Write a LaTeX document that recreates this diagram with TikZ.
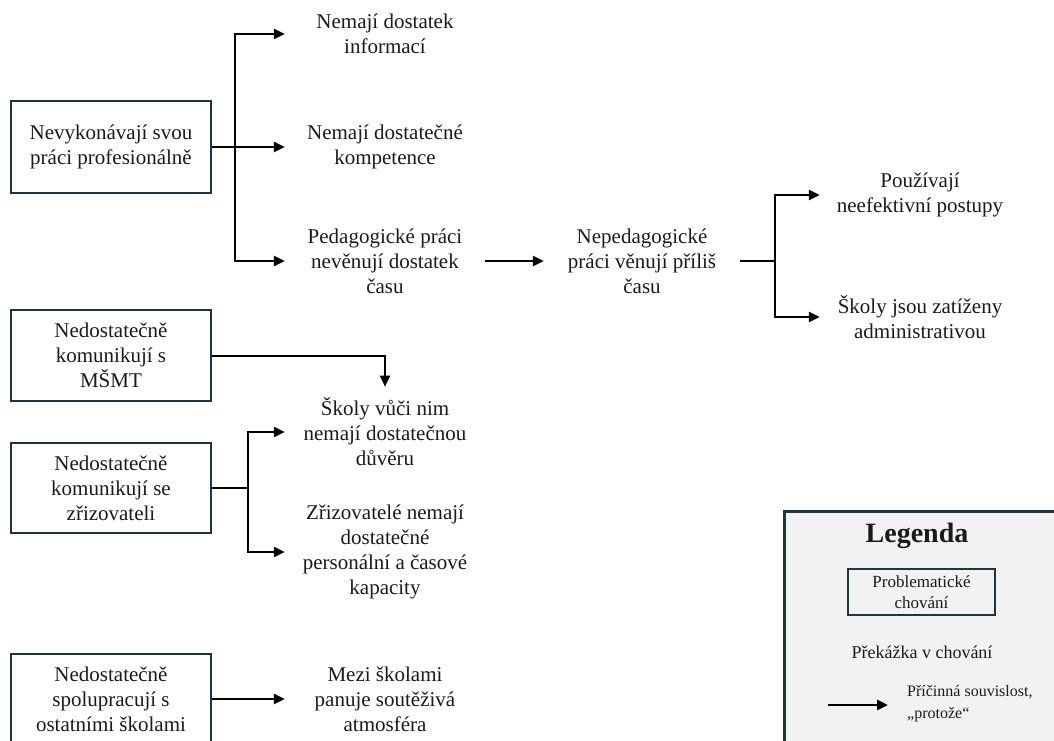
\documentclass[tikz,border=0pt]{standalone}
\usepackage{fontspec}
\setmainfont{Liberation Serif}
\usetikzlibrary{arrows.meta}
\definecolor{boxline}{HTML}{1D3545}
\definecolor{legendfill}{HTML}{F2F2F2}
\definecolor{ink}{HTML}{1A1A1A}
\tikzset{
  every node/.style={text=ink},
  txt/.style={font=\fontsize{21}{25}\selectfont, align=center, inner sep=0pt},
  cause/.style={txt, draw=boxline, line width=2.8pt, minimum width=200pt, inner sep=2pt},
  effect/.style={txt, minimum width=200pt},
  arr/.style={draw=black, line width=2.8pt, -{Triangle[length=11pt,width=10pt]}},
  link/.style={draw=black, line width=2.8pt},
  small/.style={font=\fontsize{17}{21}\selectfont, inner sep=0pt}
}
\begin{document}
\begin{tikzpicture}[x=1pt,y=-1pt]
\useasboundingbox (0,0) rectangle (1054,740);
\clip (0,0) rectangle (1054,740);

% problem behaviours (boxed)
\node[cause, minimum height=92pt] (b1) at (111,147) {Nevykonávají svou\\práci profesionálně};
\node[cause, minimum height=91pt] (b2) at (111,355.5) {Nedostatečně\\komunikují s\\MŠMT};
\node[cause, minimum height=90pt] (b3) at (111,488) {Nedostatečně\\komunikují se\\zřizovateli};
\node[cause, minimum height=90pt] (b4) at (111,699) {Nedostatečně\\spolupracují s\\ostatními školami};

% barriers
\node[effect] (t1) at (385,34) {Nemají dostatek\\informací};
\node[effect] (t2) at (385,147) {Nemají dostatečné\\kompetence};
\node[effect] (t3) at (385,261) {Pedagogické práci\\nevěnují dostatek\\času};
\node[effect, minimum width=196pt] (n1) at (642,261) {Nepedagogické\\práci věnují příliš\\času};
\node[effect] (u1) at (920,195) {Používají\\neefektivní postupy};
\node[effect] (u2) at (920,317) {Školy jsou zatíženy\\administrativou};
\node[effect] (s1) at (385,432) {Školy vůči nim\\nemají dostatečnou\\důvěru};
\node[effect] (z1) at (385,552) {Zřizovatelé nemají\\dostatečné\\personální a časové\\kapacity};
\node[effect] (m1) at (385,699) {Mezi školami\\panuje soutěživá\\atmosféra};

% branching points
\coordinate (tr1) at (235,147);
\coordinate (tr2) at (775,261);
\coordinate (tr3) at (248,488);

% connectors
\draw[link] (b1.east) -- (tr1);
\draw[arr] (tr1) |- (t1.west);
\draw[arr] (tr1) -- (t2.west);
\draw[arr] (tr1) |- (t3.west);

\draw[arr] (t3.east) -- (n1.west);
\draw[link] (n1.east) -- (tr2);
\draw[arr] (tr2) |- (u1.west);
\draw[arr] (tr2) |- (u2.west);

\draw[arr, line width=2pt, shorten >=11pt] (b2.east) -| (s1.north);

\draw[link] (b3.east) -- (tr3);
\draw[arr] (tr3) |- (s1.west);
\draw[arr] (tr3) |- (z1.west);

\draw[arr] (b4.east) -- (m1.west);

% legend
\node[draw=boxline, fill=legendfill, line width=2.8pt, minimum width=300pt, minimum height=260pt, anchor=north west, inner sep=0pt] (leg) at (783,510) {};
\node[font=\bfseries\fontsize{28}{30}\selectfont, inner sep=0pt] (legt) at (917,536) {Legenda};
\node[small, draw=boxline, line width=2.4pt, minimum width=147pt, minimum height=46pt, align=center] (legb) at (921.5,592) {Problematické\\chování};
\node[small, font=\fontsize{18}{21}\selectfont] (lego) at (922,652) {Překážka v chování};
\coordinate (la) at (828,705);
\coordinate (lb) at (888,705);
\draw[arr] (la) -- (lb);
\node[small, font=\fontsize{16}{22}\selectfont, align=left, anchor=west] (legc) at (907,704) {Příčinná souvislost,\\„protože“};
\end{tikzpicture}
\end{document}
